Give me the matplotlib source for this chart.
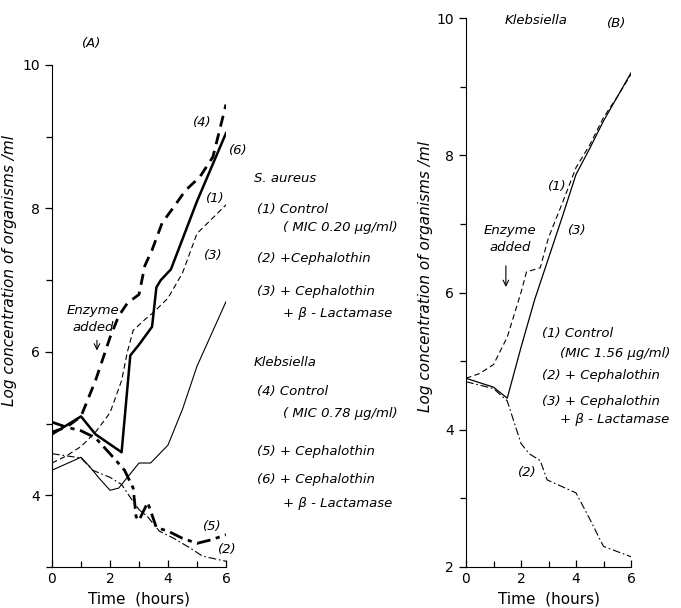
import matplotlib
matplotlib.use("Agg")
import matplotlib.pyplot as plt
from matplotlib.ticker import MultipleLocator

plt.rcParams["font.family"] = ["DejaVu Sans"]

# Panel A: S. aureus (1-3) and Klebsiella (4-6), log organisms/ml vs hours
A1_t = [0, 0.5, 1, 1.5, 2, 2.4, 2.6, 2.8, 3.2, 3.5, 4, 4.5, 5, 5.5, 6]
A1_y = [4.45, 4.55, 4.68, 4.88, 5.15, 5.6, 6.0, 6.3, 6.45, 6.55, 6.75, 7.1, 7.65, 7.85, 8.05]
A2_t = [0, 1, 1.4, 2, 2.4, 2.7, 3, 3.3, 3.7, 4.2, 4.7, 5.2, 6]
A2_y = [4.58, 4.52, 4.35, 4.25, 4.15, 3.97, 3.8, 3.7, 3.5, 3.4, 3.28, 3.15, 3.08]
A3_t = [0, 1, 1.3, 1.6, 2, 2.3, 2.7, 3, 3.4, 4, 4.5, 5, 5.5, 6]
A3_y = [4.35, 4.53, 4.4, 4.25, 4.07, 4.1, 4.3, 4.45, 4.45, 4.7, 5.2, 5.8, 6.25, 6.7]
A4_t = [0, 0.5, 1, 1.5, 2, 2.3, 2.6, 3, 3.2, 3.45, 3.8, 4.2, 4.6, 5.1, 5.55, 6]
A4_y = [4.88, 4.95, 5.1, 5.6, 6.2, 6.5, 6.68, 6.8, 7.2, 7.42, 7.8, 8.02, 8.25, 8.44, 8.72, 9.45]
A5_t = [0, 0.5, 1, 1.5, 2, 2.5, 2.8, 2.9, 3.0, 3.3, 3.6, 4, 4.5, 5, 5.5, 6]
A5_y = [5.02, 4.95, 4.9, 4.8, 4.58, 4.35, 4.1, 3.7, 3.65, 3.9, 3.55, 3.5, 3.4, 3.33, 3.38, 3.45]
A6_t = [0, 1, 1.5, 2.4, 2.7, 3.0, 3.45, 3.6, 3.75, 4.1, 5, 6]
A6_y = [4.85, 5.1, 4.85, 4.6, 5.95, 6.1, 6.35, 6.9, 7.0, 7.15, 8.1, 9.05]

# Panel B: Klebsiella (MIC 1.56)
B1_t = [0, 0.5, 1, 1.5, 2, 2.2, 2.7, 3, 3.5, 4, 4.5, 5, 5.5, 6]
B1_y = [4.75, 4.82, 4.95, 5.35, 6.0, 6.3, 6.36, 6.8, 7.3, 7.82, 8.15, 8.55, 8.85, 9.18]
B2_t = [0, 1, 1.5, 2, 2.3, 2.7, 2.95, 3.5, 4, 4.5, 5, 6]
B2_y = [4.7, 4.6, 4.42, 3.8, 3.65, 3.55, 3.27, 3.17, 3.08, 2.7, 2.3, 2.15]
B3_t = [0, 1, 1.5, 2, 2.5, 3, 3.5, 4, 4.5, 5, 5.5, 6]
B3_y = [4.75, 4.62, 4.46, 5.2, 5.9, 6.5, 7.1, 7.72, 8.1, 8.5, 8.85, 9.2]

legend_a = [("S. aureus", 0), ("(1) Control", 1), ("( MIC 0.20 μg/ml)", 2),
            ("(2) +Cephalothin", 1), ("(3) + Cephalothin", 1), ("+ β - Lactamase", 2),
            ("Klebsiella", 0), ("(4) Control", 1), ("( MIC 0.78 μg/ml)", 2),
            ("(5) + Cephalothin", 1), ("(6) + Cephalothin", 1), ("+ β - Lactamase", 2)]
legend_a_y = [179, 209, 228, 258, 292, 313, 363, 391, 413, 451, 479, 503]
legend_b = [("(1) Control", 1), ("(MIC 1.56 μg/ml)", 2), ("(2) + Cephalothin", 1),
            ("(3) + Cephalothin", 1), ("+ β - Lactamase", 2)]
legend_b_y = [333, 353, 375, 402, 420]

W, H = 681, 608
fig = plt.figure(figsize=(W / 100, H / 100), dpi=100)
TXT = dict(color="black", style="italic", fontsize=9.5)


def px(x, y):
    return x / W, 1 - y / H


def style_axes(ax, ymin, label_y):
    for s in ("top", "right"):
        ax.spines[s].set_visible(False)
    ax.set_xlim(0, 6)
    ax.set_ylim(ymin, 10)
    ax.xaxis.set_major_locator(MultipleLocator(2))
    ax.xaxis.set_minor_locator(MultipleLocator(1))
    ax.yaxis.set_major_locator(MultipleLocator(2))
    ax.yaxis.set_minor_locator(MultipleLocator(1))
    ax.tick_params(which="both", direction="out", labelsize=10, width=0.9)
    ax.tick_params(which="major", length=5)
    ax.tick_params(which="minor", length=4)
    ax.tick_params(axis="x", which="both", direction="in")
    ax.set_xlabel("Time  (hours)", fontsize=11, labelpad=4)
    ax.set_ylabel("Log concentration of organisms /ml", fontsize=11, style="italic")
    ax.yaxis.set_label_coords(-0.2, label_y)
    ax.patch.set_alpha(0)


k = "black"
axA = fig.add_axes([52 / W, 1 - 567 / H, (226 - 52) / W, (567 - 65) / H])
axA.plot(A1_t, A1_y, color=k, lw=0.8, dashes=(5, 3))
axA.plot(A2_t, A2_y, color=k, lw=0.8, dashes=(7, 2.5, 1.5, 2.5))
axA.plot(A3_t, A3_y, color=k, lw=0.8)
axA.plot(A4_t, A4_y, color=k, lw=2.0, dashes=(4, 2.5))
axA.plot(A5_t, A5_y, color=k, lw=2.0, dashes=(5, 2, 1.5, 2))
axA.plot(A6_t, A6_y, color=k, lw=1.8)
style_axes(axA, 3, 0.59)
for lbl, x, y in [("(4)", 5.17, 9.2), ("(6)", 6.41, 8.81), ("(1)", 5.62, 8.14),
                  ("(3)", 5.55, 7.35), ("(5)", 5.52, 3.57), ("(2)", 6.03, 3.25)]:
    axA.text(x, y, lbl, ha="center", va="center", clip_on=False, **TXT)
axA.text(1.41, 6.58, "Enzyme", ha="center", va="center", **TXT)
axA.text(1.41, 6.34, "added", ha="center", va="center", **TXT)
axA.annotate("", xy=(1.55, 5.98), xytext=(1.55, 6.2),
             arrowprops=dict(arrowstyle="->", color=k, lw=0.8))
fig.text(*px(92, 44), "(A)", ha="center", va="center", **TXT)

for (s, ind), y in zip(legend_a, legend_a_y):
    x = {0: 254, 1: 257, 2: 283}[ind]
    fig.text(*px(x, y), s, ha="left", va="center", **TXT)

axB = fig.add_axes([466 / W, 1 - 567 / H, (631 - 466) / W, (567 - 18) / H])
axB.plot(B1_t, B1_y, color=k, lw=0.8, dashes=(5, 3))
axB.plot(B2_t, B2_y, color=k, lw=0.8, dashes=(7, 2.5, 1.5, 2.5))
axB.plot(B3_t, B3_y, color=k, lw=0.9)
style_axes(axB, 2, 0.53)
axB.text(3.31, 7.54, "(1)", ha="center", va="center", **TXT)
axB.text(4.04, 6.91, "(3)", ha="center", va="center", **TXT)
axB.text(2.22, 3.37, "(2)", ha="center", va="center", **TXT)
axB.text(1.6, 6.91, "Enzyme", ha="center", va="center", **TXT)
axB.text(1.6, 6.65, "added", ha="center", va="center", **TXT)
axB.annotate("", xy=(1.45, 6.04), xytext=(1.45, 6.43),
             arrowprops=dict(arrowstyle="->", color=k, lw=0.8))
fig.text(*px(536, 21), "Klebsiella", ha="center", va="center", **TXT)
fig.text(*px(617, 24), "(B)", ha="center", va="center", **TXT)

for (s, ind), y in zip(legend_b, legend_b_y):
    x = {1: 542, 2: 560}[ind]
    fig.text(*px(x, y), s, ha="left", va="center", **TXT)

fig.savefig("out.png", dpi=100, facecolor="white")
